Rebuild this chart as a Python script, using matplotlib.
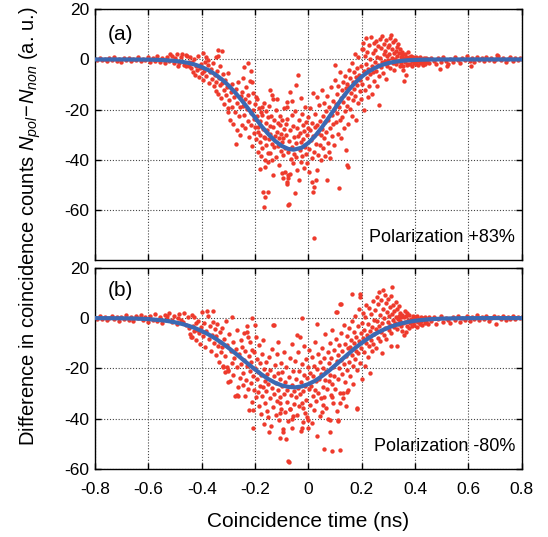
import numpy as np
import matplotlib
matplotlib.use("Agg")
import matplotlib.pyplot as plt

plt.rcParams['font.family'] = ['Liberation Sans', 'DejaVu Sans']
plt.rcParams['mathtext.fontset'] = 'custom'
plt.rcParams['mathtext.rm'] = 'Liberation Sans'
plt.rcParams['mathtext.it'] = 'Liberation Sans:italic'
plt.rcParams['axes.unicode_minus'] = False

# ---- data ---------------------------------------------------------------
# panel (a): measured points (time in ns, difference in counts)
pts_a = np.array([
    # left tail
    (-0.800, 0.3), (-0.791, -0.4), (-0.782, 0.6), (-0.773, -0.2), (-0.764, 0.1), (-0.755, -0.7),
    (-0.746, 0.4), (-0.737, -0.3), (-0.728, 0.8), (-0.719, -0.5), (-0.710, 0.2), (-0.701, -0.9),
    (-0.692, 0.5), (-0.683, -0.1), (-0.674, 0.7), (-0.665, -0.6), (-0.656, 0.3), (-0.647, -0.4),
    (-0.638, 1.0), (-0.629, -0.8), (-0.620, 0.2), (-0.611, -0.3), (-0.602, 0.9), (-0.593, -1.1),
    (-0.584, 0.4), (-0.575, -0.5), (-0.566, 1.2), (-0.557, -0.9), (-0.548, 0.6), (-0.539, -1.3),
    (-0.530, 0.8), (-0.521, -0.7), (-0.512, 1.5), (-0.503, -1.4), (-0.494, 2.0), (-0.485, -1.6),
    (-0.476, 0.9), (-0.467, -2.1), (-0.458, 1.7), (-0.449, -1.0), (-0.520, 2.2), (-0.490, -2.5),
    (-0.475, 2.3), (-0.460, -2.8), (-0.455, 1.2), (-0.500, 0.5), (-0.540, -0.2), (-0.580, 0.0),
    # -0.45 .. -0.35
    (-0.447, -2.5), (-0.443, 0.8), (-0.440, -3.6), (-0.436, -1.2), (-0.432, -5.0), (-0.428, 0.3),
    (-0.425, -6.4), (-0.421, -2.8), (-0.417, -4.1), (-0.413, 1.5), (-0.410, -7.0), (-0.406, -3.3),
    (-0.402, -1.8), (-0.398, -5.6), (-0.394, -8.2), (-0.390, -4.6), (-0.386, -0.9), (-0.382, -6.8),
    (-0.378, -2.2), (-0.374, -9.3), (-0.370, -5.1), (-0.366, -3.9), (-0.362, -7.7), (-0.358, -1.4),
    (-0.354, -10.5), (-0.350, -6.2), (-0.395, 2.4), (-0.385, 1.0), (-0.375, -0.3),
    (-0.338, 3.6), (-0.325, 3.3), (-0.346, 1.0), (-0.340, 1.3),
    # -0.35 .. -0.25
    (-0.348, -8.9), (-0.345, -12.4), (-0.342, -4.8), (-0.339, -13.7), (-0.336, -7.3), (-0.333, -10.1),
    (-0.330, -2.6), (-0.327, -15.2), (-0.324, -9.4), (-0.321, -6.0), (-0.318, -12.0), (-0.315, -17.6),
    (-0.312, -8.3), (-0.309, -14.3), (-0.306, -11.0), (-0.303, -19.5), (-0.300, -5.4), (-0.297, -16.2),
    (-0.294, -24.3), (-0.291, -13.0), (-0.288, -9.7), (-0.285, -18.8), (-0.282, -25.7), (-0.279, -15.1),
    (-0.276, -21.0), (-0.273, -11.9), (-0.270, -33.6), (-0.267, -17.3), (-0.264, -9.0), (-0.261, -22.6),
    (-0.258, -30.3), (-0.255, -19.0), (-0.252, -14.6), (-0.250, -26.0), (-0.266, -28.0), (-0.300, -20.8),
    # -0.25 .. -0.20
    (-0.249, -12.8), (-0.246, -18.5), (-0.244, -7.4), (-0.241, -22.1), (-0.238, -15.6), (-0.236, -27.4),
    (-0.233, -10.9), (-0.231, -19.8), (-0.228, -24.6), (-0.226, -14.2), (-0.223, -31.0), (-0.221, -17.0),
    (-0.219, -8.7), (-0.216, -21.5), (-0.214, -26.3), (-0.212, -9.0), (-0.210, -34.5), (-0.208, -20.1),
    (-0.206, -13.4), (-0.204, -29.2), (-0.202, -23.8), (-0.201, -17.6), (-0.240, -3.2), (-0.225, -1.5),
    (-0.215, -4.5),
    # -0.20 .. -0.15
    (-0.199, -26.8), (-0.197, -15.0), (-0.195, -31.6), (-0.194, -15.6), (-0.192, -22.4), (-0.190, -36.9),
    (-0.188, -28.9), (-0.187, -26.9), (-0.185, -19.3), (-0.183, -33.0), (-0.181, -30.2), (-0.181, -43.5),
    (-0.180, -24.4), (-0.178, -38.6), (-0.177, -21.0), (-0.175, -19.0), (-0.175, -22.2), (-0.173, -35.2),
    (-0.171, -27.7), (-0.169, -52.7), (-0.168, -17.2), (-0.166, -58.7), (-0.165, -30.8), (-0.163, -31.5),
    (-0.163, -42.8), (-0.163, -54.7), (-0.162, -40.1), (-0.160, -25.5), (-0.158, -20.7), (-0.157, -34.2),
    (-0.155, -28.0), (-0.153, -37.4), (-0.152, -23.1),
    # -0.15 .. -0.10
    (-0.150, -52.7), (-0.150, -40.8), (-0.149, -31.9), (-0.147, -18.6), (-0.145, -26.4), (-0.144, -12.3),
    (-0.144, -37.5), (-0.142, -29.8), (-0.140, -22.7), (-0.138, -14.3), (-0.138, -40.1), (-0.136, -33.6),
    (-0.134, -27.1), (-0.132, -15.6), (-0.131, -46.1), (-0.129, -35.0), (-0.127, -24.2), (-0.125, -30.5),
    (-0.123, -38.9), (-0.121, -20.0), (-0.119, -15.6), (-0.117, -29.0), (-0.115, -34.7), (-0.113, -25.3),
    (-0.111, -42.0), (-0.109, -31.2), (-0.107, -22.5), (-0.106, -26.2), (-0.104, -36.4), (-0.102, -29.6),
    # -0.10 .. -0.05
    (-0.100, -45.4), (-0.099, -33.1), (-0.097, -24.0), (-0.094, -31.5), (-0.094, -38.2), (-0.094, -47.4),
    (-0.092, -27.8), (-0.090, -19.2), (-0.088, -35.5), (-0.087, -44.8), (-0.085, -30.0), (-0.083, -25.6),
    (-0.081, -23.6), (-0.081, -16.9), (-0.081, -48.8), (-0.079, -49.8), (-0.077, -37.1), (-0.075, -46.1),
    (-0.075, -58.0), (-0.075, -47.4), (-0.073, -57.8), (-0.071, -32.4), (-0.069, -45.8), (-0.067, -28.3),
    (-0.065, -39.6), (-0.063, -22.0), (-0.061, -34.8), (-0.059, -41.2), (-0.057, -26.7), (-0.055, -30.9),
    (-0.053, -37.8), (-0.081, -18.9), (-0.070, -13.0), (-0.060, -16.4), (-0.045, -10.2),
    # -0.05 .. 0
    (-0.050, -20.4), (-0.049, -53.4), (-0.047, -33.5), (-0.045, -39.0), (-0.043, -27.2), (-0.041, -44.0),
    (-0.039, -30.7), (-0.037, -6.1), (-0.036, -48.1), (-0.035, -24.3), (-0.033, -36.2), (-0.031, -29.5),
    (-0.029, -40.8), (-0.029, -15.4), (-0.027, -33.0), (-0.025, -21.8), (-0.023, -38.4), (-0.021, -26.0),
    (-0.019, -31.7), (-0.017, -43.2), (-0.015, -28.4), (-0.013, -35.0), (-0.011, -18.9), (-0.009, -24.8),
    (-0.007, -37.6), (-0.005, -30.3), (-0.004, -41.5), (-0.002, -27.4),
    # 0 .. 0.05
    (0.000, -22.9), (0.002, -44.8), (0.004, -35.6), (0.006, -28.0), (0.008, -19.4), (0.010, -32.2),
    (0.012, -39.5), (0.014, -25.3), (0.015, -48.8), (0.017, -30.6), (0.018, -52.7), (0.019, -13.5),
    (0.021, -50.8), (0.021, -71.3), (0.022, -36.9), (0.024, -27.1), (0.026, -21.7), (0.027, -48.1),
    (0.029, -33.8), (0.031, -15.1), (0.033, -44.1), (0.034, -26.0), (0.036, -38.0), (0.038, -29.4),
    (0.040, -18.2), (0.042, -34.1), (0.044, -24.5), (0.046, -40.3), (0.048, -30.0),
    # 0.05 .. 0.10
    (0.050, -12.0), (0.052, -27.8), (0.054, -35.5), (0.056, -22.6), (0.058, -17.3), (0.060, -31.2),
    (0.062, -25.0), (0.064, -38.7), (0.066, -20.4), (0.068, -29.1), (0.069, -48.1), (0.071, -14.6),
    (0.073, -33.5), (0.075, -24.0), (0.077, -19.0), (0.079, -36.8), (0.081, -27.5), (0.083, -39.5),
    (0.085, -10.8), (0.087, -22.0), (0.089, -30.4), (0.091, -16.5), (0.093, -25.8), (0.095, -34.0),
    (0.097, -20.2), (0.099, -8.1),
    # 0.10 .. 0.15
    (0.100, -2.4), (0.102, -17.7), (0.104, -25.1), (0.106, -13.9), (0.108, -21.2), (0.110, -29.6),
    (0.112, -10.5), (0.114, -19.0), (0.116, -51.1), (0.117, -24.3), (0.119, -5.0), (0.121, -15.4),
    (0.123, -31.5), (0.125, -12.3), (0.127, -22.8), (0.129, -8.9), (0.131, -17.0), (0.133, -27.3),
    (0.135, -14.0), (0.137, -20.6), (0.139, -6.6), (0.141, -36.3), (0.143, -11.2), (0.144, -42.1),
    (0.144, -9.7), (0.146, -18.4), (0.148, -25.9), (0.150, -43.0),
    # 0.15 .. 0.20
    (0.150, -15.2), (0.152, -4.3), (0.154, -10.9), (0.156, -19.8), (0.158, -7.6), (0.160, -13.4),
    (0.162, -1.5), (0.164, -22.5), (0.166, -9.0), (0.168, -16.0), (0.170, -5.2), (0.172, -11.8),
    (0.174, 2.1), (0.176, -14.6), (0.178, -7.0), (0.180, -24.0), (0.182, -3.3), (0.184, -10.2),
    (0.186, -17.5), (0.188, 0.8), (0.190, -6.3), (0.192, -12.7), (0.194, -8.4), (0.196, -2.6),
    (0.198, -15.9), (0.200, 4.0),
    # 0.20 .. 0.25
    (0.202, -9.6), (0.204, 6.6), (0.206, 4.2), (0.208, -4.8), (0.210, -20.3), (0.211, 1.5),
    (0.213, -12.3), (0.215, -1.8), (0.217, 8.4), (0.219, -7.5), (0.221, 3.0), (0.223, -15.0),
    (0.225, -3.9), (0.227, 5.6), (0.229, -10.4), (0.231, 0.2), (0.233, -6.0), (0.235, 9.0),
    (0.237, -2.5), (0.239, -13.8), (0.241, 2.7), (0.243, -5.1), (0.245, 6.4), (0.247, -8.8),
    (0.249, -0.9),
    # 0.25 .. 0.30
    (0.251, 3.8), (0.253, -4.5), (0.255, 7.2), (0.257, -10.6), (0.259, 1.0), (0.261, -2.2),
    (0.263, 5.3), (0.265, -6.8), (0.266, -18.0), (0.268, 0.4), (0.270, 8.1), (0.272, -3.0),
    (0.274, 4.6), (0.276, -1.2), (0.278, 9.5), (0.280, -5.5), (0.282, 2.3), (0.284, 6.0),
    (0.286, -0.5), (0.288, 3.4), (0.290, -7.9), (0.292, 7.6), (0.294, 1.2), (0.296, -2.8),
    (0.298, 4.9), (0.300, -0.2),
    # 0.30 .. 0.35
    (0.302, 5.8), (0.304, 2.0), (0.306, -3.5), (0.308, 8.7), (0.310, 9.9), (0.312, 0.7),
    (0.314, 4.2), (0.316, -1.5), (0.318, 6.9), (0.320, 2.6), (0.322, -4.2), (0.324, 7.8),
    (0.326, 0.1), (0.328, 3.3), (0.330, -2.0), (0.332, 5.1), (0.334, 1.4), (0.336, -0.8),
    (0.338, 6.2), (0.340, 2.4), (0.342, -2.6), (0.344, 4.0), (0.346, 0.9), (0.348, -1.3),
    (0.350, 3.0),
    # 0.35 .. 0.45
    (0.352, 1.6), (0.354, -2.7), (0.356, -4.4), (0.358, 0.5), (0.359, -8.7), (0.361, 2.2),
    (0.363, -1.0), (0.365, -6.1), (0.367, 1.1), (0.369, -2.3), (0.371, 0.3), (0.373, 3.1),
    (0.375, -1.7), (0.378, 0.8), (0.381, -2.0), (0.384, 1.5), (0.387, -0.6), (0.390, -2.5),
    (0.393, 0.9), (0.396, -1.4), (0.399, 0.2), (0.402, -1.9), (0.405, 1.0), (0.408, -0.8),
    (0.411, -2.2), (0.414, 0.4), (0.417, -1.1), (0.420, 0.9), (0.423, -1.6), (0.426, 0.1),
    (0.429, -2.4), (0.432, 0.6), (0.435, -0.9), (0.438, -1.8), (0.441, 0.5), (0.444, -1.2),
    (0.447, 0.2),
    # right tail
    (0.452, -1.5), (0.461, 0.7), (0.470, -0.8), (0.479, -2.0), (0.488, 0.4), (0.497, -1.1),
    (0.506, 0.9), (0.515, -0.5), (0.524, -1.7), (0.533, 0.3), (0.542, -0.9), (0.551, 1.0),
    (0.560, -0.4), (0.569, -1.3), (0.578, 0.6), (0.587, -0.2), (0.596, 1.2), (0.605, -0.7),
    (0.614, 0.4), (0.623, -1.0), (0.632, 0.8), (0.641, -0.3), (0.650, 0.5), (0.659, -0.8),
    (0.668, 1.1), (0.677, -0.2), (0.686, 0.6), (0.695, -0.6), (0.704, 0.3), (0.713, 1.2),
    (0.722, -0.4), (0.731, 0.7), (0.740, -0.9), (0.749, 0.2), (0.758, 0.9), (0.767, -0.5),
    (0.776, 0.4), (0.785, -0.3), (0.794, 0.6), (0.800, 0.1), (0.494, -3.7), (0.520, -2.8),
    (0.610, -2.5), (0.706, 1.6),
])

# panel (b): measured points
pts_b = np.array([
    # left tail
    (-0.800, 0.2), (-0.791, -0.5), (-0.782, 0.7), (-0.773, -0.3), (-0.764, 0.4), (-0.755, -0.8),
    (-0.746, 0.1), (-0.737, 0.9), (-0.728, -0.4), (-0.719, 0.5), (-0.710, -1.0), (-0.701, 0.3),
    (-0.692, -0.2), (-0.683, 1.1), (-0.674, -0.7), (-0.665, 0.4), (-0.656, -1.2), (-0.647, 0.8),
    (-0.638, -0.1), (-0.629, 1.3), (-0.620, -0.9), (-0.611, 0.5), (-0.602, -1.4), (-0.593, 1.0),
    (-0.584, -0.6), (-0.575, 1.6), (-0.566, -1.1), (-0.557, 0.3), (-0.548, -1.8), (-0.539, 1.4),
    (-0.530, -0.4), (-0.521, 2.0), (-0.512, -1.7), (-0.503, 0.9), (-0.494, -2.3), (-0.485, 1.8),
    (-0.476, -0.8), (-0.467, 2.2), (-0.458, -2.6), (-0.452, 0.6), (-0.490, 0.1), (-0.530, 0.8),
    (-0.510, -0.9), (-0.470, -1.5),
    # -0.45 .. -0.35
    (-0.448, -4.1), (-0.444, -6.2), (-0.441, -7.5), (-0.438, 1.2), (-0.437, -7.5), (-0.434, -3.0),
    (-0.430, -5.3), (-0.427, 0.4), (-0.423, -2.1), (-0.420, -8.6), (-0.416, -4.7), (-0.413, -1.0),
    (-0.409, -6.0), (-0.405, -10.2), (-0.402, -3.5), (-0.398, 2.6), (-0.394, -7.1), (-0.390, -1.8),
    (-0.386, -11.5), (-0.382, -5.0), (-0.381, 3.0), (-0.378, 0.7), (-0.374, -8.3), (-0.370, -3.2),
    (-0.366, -12.9), (-0.362, -6.6), (-0.358, -1.4), (-0.356, 3.0), (-0.354, -9.8), (-0.350, -4.4),
    # -0.35 .. -0.25
    (-0.348, -14.7), (-0.345, -7.0), (-0.342, -2.5), (-0.339, -11.0), (-0.336, -17.3), (-0.333, -5.6),
    (-0.330, -9.4), (-0.327, -13.5), (-0.325, -11.4), (-0.322, -3.8), (-0.319, -19.0), (-0.316, -8.2),
    (-0.313, -15.1), (-0.310, -1.3), (-0.306, -19.4), (-0.304, -10.8), (-0.302, -21.0), (-0.300, -25.3),
    (-0.298, -6.5), (-0.294, -25.0), (-0.291, -13.2), (-0.288, -17.7), (-0.287, 0.4), (-0.284, -9.5),
    (-0.281, -22.6), (-0.278, -15.8), (-0.275, -30.8), (-0.272, -12.1), (-0.269, -19.6), (-0.266, -4.9),
    (-0.263, -27.5), (-0.260, -14.4), (-0.257, -23.7), (-0.254, -8.8), (-0.251, -18.1),
    (-0.319, -19.4), (-0.300, -20.7), (-0.313, -21.3), (-0.269, -30.5), (-0.263, -30.8),
    # -0.25 .. -0.15
    (-0.249, -11.5), (-0.246, -21.9), (-0.244, -26.6), (-0.242, -6.0), (-0.240, -16.8), (-0.238, -30.9),
    (-0.236, -13.0), (-0.233, -24.5), (-0.231, -19.2), (-0.229, -3.1), (-0.226, -28.2), (-0.224, -15.0),
    (-0.222, -36.3), (-0.220, -21.0), (-0.218, -9.6), (-0.216, -25.8), (-0.214, -17.4), (-0.212, -33.2),
    (-0.212, 0.0), (-0.210, -12.6), (-0.209, -43.6), (-0.208, -22.9), (-0.206, -36.5), (-0.204, -28.7),
    (-0.202, -13.5), (-0.200, -19.9), (-0.198, -31.4), (-0.196, -7.5), (-0.194, -24.3), (-0.192, -16.1),
    (-0.190, -29.5), (-0.188, -21.4), (-0.186, -10.8), (-0.184, -34.8), (-0.182, -26.9), (-0.180, -18.0),
    (-0.178, -38.0), (-0.176, -22.6), (-0.174, -14.1), (-0.172, -31.0), (-0.170, -27.3), (-0.169, -8.8),
    (-0.167, -20.2), (-0.165, -42.0), (-0.163, -25.0), (-0.161, -33.7), (-0.159, -17.3), (-0.157, -29.1),
    (-0.155, -22.0), (-0.154, -36.8), (-0.152, -39.2), (-0.200, -2.9), (-0.230, -5.4), (-0.225, -7.6),
    # -0.15 .. -0.05
    (-0.150, -26.0), (-0.148, -15.5), (-0.146, -45.1), (-0.144, -31.8), (-0.142, -20.5), (-0.140, -43.0),
    (-0.138, -27.9), (-0.136, -12.4), (-0.134, -2.9), (-0.132, -35.4), (-0.130, -23.1), (-0.129, -2.9),
    (-0.127, -30.3), (-0.125, -18.8), (-0.123, -38.5), (-0.121, -25.7), (-0.119, -14.2), (-0.117, -33.0),
    (-0.115, -21.6), (-0.113, -28.4), (-0.112, -9.5), (-0.110, -40.6), (-0.108, -24.0), (-0.106, -31.2),
    (-0.105, -47.7), (-0.103, -17.9), (-0.101, -35.9), (-0.099, -27.0), (-0.097, -21.3), (-0.095, -44.0),
    (-0.093, -30.1), (-0.091, -13.6), (-0.089, -37.2), (-0.087, -25.2), (-0.085, -48.0), (-0.083, -19.6),
    (-0.081, -33.4), (-0.079, -28.7), (-0.077, -41.0), (-0.075, -56.9), (-0.073, -23.3), (-0.071, -57.2),
    (-0.069, -36.0), (-0.067, -15.8), (-0.065, -30.6), (-0.063, -43.7), (-0.061, -26.4), (-0.060, -10.1),
    (-0.058, -39.0), (-0.056, -20.9), (-0.054, -33.9), (-0.052, -29.0), (-0.106, -33.6), (-0.106, -37.8),
    (-0.094, -45.1), (-0.069, -36.2), (-0.062, -40.0),
    # -0.05 .. 0.05
    (-0.050, -17.0), (-0.048, -31.5), (-0.046, -24.2), (-0.044, -6.9), (-0.042, -38.3), (-0.040, -27.6),
    (-0.038, -13.4), (-0.036, -35.0), (-0.034, -21.0), (-0.031, -7.5), (-0.031, -30.2), (-0.029, -45.0),
    (-0.027, -25.5), (-0.025, -33.8), (-0.025, 0.0), (-0.025, -43.7), (-0.023, -18.4), (-0.021, -29.0),
    (-0.019, -35.8), (-0.019, -41.1), (-0.017, -22.7), (-0.015, -11.0), (-0.013, -37.8), (-0.011, -27.1),
    (-0.009, -16.2), (-0.007, -32.5), (-0.006, -39.1), (-0.004, -23.9), (-0.002, -19.5), (0.000, -40.4),
    (0.000, -43.7), (0.002, -28.3), (0.004, -12.7), (0.006, -34.4), (0.008, -21.6), (0.010, -26.8),
    (0.012, -41.7), (0.014, -15.6), (0.016, -30.9), (0.018, -23.0), (0.020, -36.6), (0.022, -18.9),
    (0.024, -28.5), (0.026, -9.3), (0.028, -25.1), (0.030, -33.0), (0.031, -2.2), (0.032, -46.7),
    (0.034, -20.3), (0.036, -14.4), (0.038, -29.8), (0.040, -24.0), (0.042, -38.9), (0.044, -17.6),
    (0.046, -31.7), (0.048, -22.2), (0.050, -37.4),
    # 0.05 .. 0.15
    (0.052, -12.0), (0.054, -27.4), (0.056, -19.9), (0.058, -31.3), (0.060, -15.7), (0.062, -24.6),
    (0.064, -6.5), (0.066, -35.8), (0.068, -21.1), (0.070, -28.2), (0.072, -13.3), (0.074, -40.2),
    (0.076, -17.8), (0.078, -25.0), (0.080, -9.9), (0.081, -45.1), (0.082, -22.4), (0.084, -30.7),
    (0.086, -16.0), (0.087, -52.6), (0.088, -26.1), (0.090, -4.8), (0.092, -19.3), (0.094, -33.6),
    (0.096, -12.6), (0.098, -22.9), (0.100, -28.0), (0.102, -8.2), (0.104, 2.4), (0.106, -17.1),
    (0.107, 2.4), (0.108, -37.0), (0.110, -14.8), (0.112, -40.4), (0.112, -24.3), (0.114, -19.7),
    (0.116, -10.6), (0.118, -29.6), (0.119, 5.7), (0.120, -52.3), (0.121, -16.6), (0.123, 5.4),
    (0.124, -6.0), (0.126, -22.0), (0.128, -13.2), (0.130, -31.9), (0.132, -18.4), (0.134, -2.7),
    (0.136, -25.4), (0.138, -10.1), (0.140, -15.2), (0.142, -35.0), (0.144, -7.3), (0.146, -20.6),
    (0.148, -12.0), (0.059, -51.9), (0.113, -40.7), (0.117, -33.8), (0.081, -40.4), (0.144, -29.3),
    (0.056, -34.5), (0.087, -31.2), (0.131, -29.9),
    # 0.15 .. 0.25
    (0.150, -28.6), (0.152, -17.5), (0.154, -4.1), (0.156, -11.4), (0.158, -22.8), (0.160, -8.6),
    (0.162, -14.7), (0.163, 9.4), (0.164, -1.3), (0.166, -19.0), (0.168, -26.0), (0.170, -10.0),
    (0.172, -5.5), (0.174, -16.3), (0.176, 0.8), (0.178, -12.9), (0.180, -7.4), (0.181, -36.2),
    (0.181, -35.8), (0.183, -20.5), (0.185, -3.0), (0.187, -14.0), (0.189, -9.2), (0.191, 3.6),
    (0.193, -17.8), (0.194, 9.6), (0.194, 8.3), (0.196, -6.1), (0.198, -11.7), (0.200, -1.9),
    (0.202, -24.0), (0.204, -8.0), (0.206, 2.2), (0.208, -13.6), (0.210, -4.6), (0.212, -18.9),
    (0.214, 0.3), (0.216, -9.8), (0.218, 5.1), (0.220, -6.9), (0.222, -15.5), (0.224, -2.4),
    (0.226, -11.0), (0.228, 4.0), (0.230, -21.6), (0.232, -5.3), (0.234, 1.5), (0.236, -8.7),
    (0.238, -13.0), (0.240, -3.4), (0.242, 6.7), (0.244, -10.3), (0.246, -0.8), (0.248, -6.5),
    # 0.25 .. 0.35
    (0.250, 3.1), (0.252, -12.0), (0.254, -4.4), (0.256, 8.2), (0.258, -1.0), (0.260, -7.9),
    (0.262, 5.5), (0.264, -3.2), (0.266, 10.4), (0.268, -9.1), (0.270, 1.2), (0.272, -5.7),
    (0.274, 7.0), (0.276, -2.1), (0.278, -13.9), (0.280, 3.8), (0.281, 11.0), (0.283, -6.6),
    (0.285, 0.2), (0.287, 9.3), (0.289, -3.9), (0.291, 5.9), (0.293, -8.4), (0.295, 2.5),
    (0.297, -1.6), (0.299, 7.5), (0.301, -4.8), (0.303, 0.9), (0.305, 4.3), (0.307, -2.7),
    (0.309, 8.8), (0.311, -6.0), (0.313, 12.3), (0.315, 1.8), (0.317, -0.6), (0.319, 5.0),
    (0.321, -3.5), (0.323, 2.9), (0.325, -1.9), (0.327, 6.4), (0.329, 0.5), (0.331, -4.2),
    (0.333, 3.6), (0.335, -0.3), (0.337, -2.4), (0.339, 4.7), (0.341, 1.0), (0.343, -1.2),
    (0.345, 2.2), (0.347, -3.0), (0.349, 0.6), (0.310, -11.2), (0.331, -10.9),
    # 0.35 .. 0.45
    (0.351, -5.2), (0.353, 1.4), (0.355, -2.1), (0.357, -6.8), (0.359, 0.3), (0.361, 3.0),
    (0.363, -1.5), (0.365, -5.5), (0.367, 0.8), (0.369, -3.3), (0.371, 2.0), (0.373, -0.9),
    (0.376, -4.0), (0.379, 1.2), (0.382, -1.8), (0.385, -0.2), (0.388, -3.0), (0.391, 0.9),
    (0.394, -1.4), (0.397, -2.6), (0.400, 0.4), (0.403, -1.0), (0.406, -3.4), (0.409, 0.7),
    (0.412, -1.7), (0.415, -0.3), (0.418, -2.2), (0.421, 0.6), (0.424, -1.3), (0.427, -2.8),
    (0.430, 0.2), (0.433, -0.9), (0.436, -2.0), (0.439, 0.5), (0.442, -1.5), (0.445, -0.4),
    (0.448, -2.3),
    # right tail
    (0.452, 0.3), (0.461, -1.2), (0.470, 0.6), (0.479, -2.4), (0.488, -0.5), (0.497, 0.8),
    (0.506, -1.6), (0.515, 0.2), (0.524, -0.9), (0.533, -2.0), (0.542, 0.5), (0.551, -0.7),
    (0.560, 1.0), (0.569, -1.4), (0.578, 0.1), (0.587, -0.6), (0.596, 0.9), (0.605, -1.1),
    (0.614, 0.4), (0.623, -0.3), (0.632, 1.2), (0.641, -0.8), (0.650, 0.3), (0.659, -0.5),
    (0.668, 0.8), (0.677, -1.0), (0.686, 0.2), (0.695, 0.9), (0.704, -2.2), (0.713, 0.5),
    (0.722, -0.4), (0.731, 1.0), (0.740, -0.6), (0.749, 0.3), (0.758, -0.2), (0.767, 0.7),
    (0.776, -0.5), (0.785, 0.4), (0.794, -0.1), (0.800, 0.3),
])

# fitted curves
fit_x_a = [-0.8, -0.7, -0.6, -0.55, -0.5, -0.475, -0.45, -0.425, -0.4, -0.375, -0.35, -0.325,
           -0.3, -0.275, -0.25, -0.225, -0.2, -0.175, -0.15, -0.125, -0.1, -0.075, -0.055,
           -0.025, 0.0, 0.025, 0.05, 0.075, 0.1, 0.125, 0.15, 0.175, 0.2, 0.225, 0.25, 0.275,
           0.3, 0.325, 0.35, 0.375, 0.4, 0.45, 0.5, 0.6, 0.7, 0.8]
fit_y_a = [0.0, -0.01, -0.07, -0.22, -0.58, -0.92, -1.40, -2.08, -3.02, -4.27, -5.89, -7.90,
           -10.32, -13.15, -16.3, -19.7, -23.2, -26.7, -29.8, -32.5, -34.5, -35.7, -36.0,
           -35.2, -33.3, -30.6, -27.2, -23.4, -19.5, -15.7, -12.3, -9.34, -6.85, -4.87, -3.36,
           -2.24, -1.45, -0.90, -0.55, -0.32, -0.18, -0.05, -0.01, 0.0, 0.0, 0.0]

fit_x_b = [-0.8, -0.7, -0.65, -0.6, -0.55, -0.525, -0.5, -0.475, -0.45, -0.425, -0.4, -0.375,
           -0.35, -0.325, -0.3, -0.275, -0.25, -0.225, -0.2, -0.175, -0.15, -0.125, -0.1,
           -0.075, -0.05, -0.025, 0.0, 0.025, 0.05, 0.075, 0.1, 0.125, 0.15, 0.175, 0.2,
           0.225, 0.25, 0.275, 0.3, 0.325, 0.35, 0.375, 0.4, 0.45, 0.5, 0.55, 0.6, 0.7, 0.8]
fit_y_b = [-0.01, -0.08, -0.18, -0.41, -0.86, -1.21, -1.67, -2.27, -3.03, -3.97, -5.11, -6.46,
           -8.03, -9.81, -11.77, -13.87, -16.06, -18.27, -20.4, -22.4, -24.2, -25.66, -26.7,
           -27.3, -27.5, -27.1, -26.2, -24.9, -23.1, -21.1, -18.8, -16.5, -14.2, -11.9, -9.86,
           -7.99, -6.34, -4.94, -3.77, -2.82, -2.07, -1.49, -1.05, -0.49, -0.21, -0.09, -0.03,
           0.0, 0.0]

xticks = [-0.8, -0.6, -0.4, -0.2, 0, 0.2, 0.4, 0.6, 0.8]
xtick_labels = ['-0.8', '-0.6', '-0.4', '-0.2', '0', '0.2', '0.4', '0.6', '0.8']
yticks = [-60, -40, -20, 0, 20]
panel_labels = ['(a)', '(b)']
pol_labels = ['Polarization +83%', 'Polarization -80%']

red = '#ee3a2c'
blue = '#3b69b3'

fig = plt.figure(figsize=(5.48, 5.37), dpi=100)
ax_a = fig.add_axes([0.1734, 0.5158, 0.7786, 0.4669])
ax_b = fig.add_axes([0.1734, 0.1261, 0.7786, 0.3754])

panels = [(ax_a, pts_a, fit_x_a, fit_y_a, (-80, 20)),
          (ax_b, pts_b, fit_x_b, fit_y_b, (-60, 20))]

for i, (ax, pts, fx, fy, ylim) in enumerate(panels):
    ax.scatter(pts[:, 0], pts[:, 1], s=10, color=red, linewidths=0, zorder=2)
    ax.plot(fx, fy, color=blue, lw=3.0, zorder=3, solid_capstyle='round')
    ax.set_xlim(-0.8, 0.8)
    ax.set_ylim(*ylim)
    ax.set_xticks(xticks)
    ax.set_yticks(yticks)
    ax.set_axisbelow(True)
    ax.grid(True, color='#444444', linestyle=(0, (1, 1.6)), lw=0.8)
    ax.tick_params(direction='in', top=True, right=True, length=4, width=1,
                   labelsize=12.5, pad=4)
    ax.tick_params(axis='x', pad=9)
    for sp in ax.spines.values():
        sp.set_linewidth(1.0)
    ax.text(0.06, 0.9 if i == 0 else 0.885, panel_labels[i], transform=ax.transAxes,
            fontsize=15, ha='center', va='center')
    ax.text(0.985, 0.09 if i == 0 else 0.115, pol_labels[i], transform=ax.transAxes,
            fontsize=13, ha='right', va='center')

ax_a.tick_params(labelbottom=False)
ax_b.set_xticklabels(xtick_labels)
ax_b.set_xlabel('Coincidence time (ns)', fontsize=15, labelpad=11)

fig.text(0.055, 0.578, r'Difference in coincidence counts $N_{pol}\!-\!N_{non}$ (a. u.)',
         rotation=90, ha='center', va='center', fontsize=14.5)

fig.savefig('out.png', dpi=100)
